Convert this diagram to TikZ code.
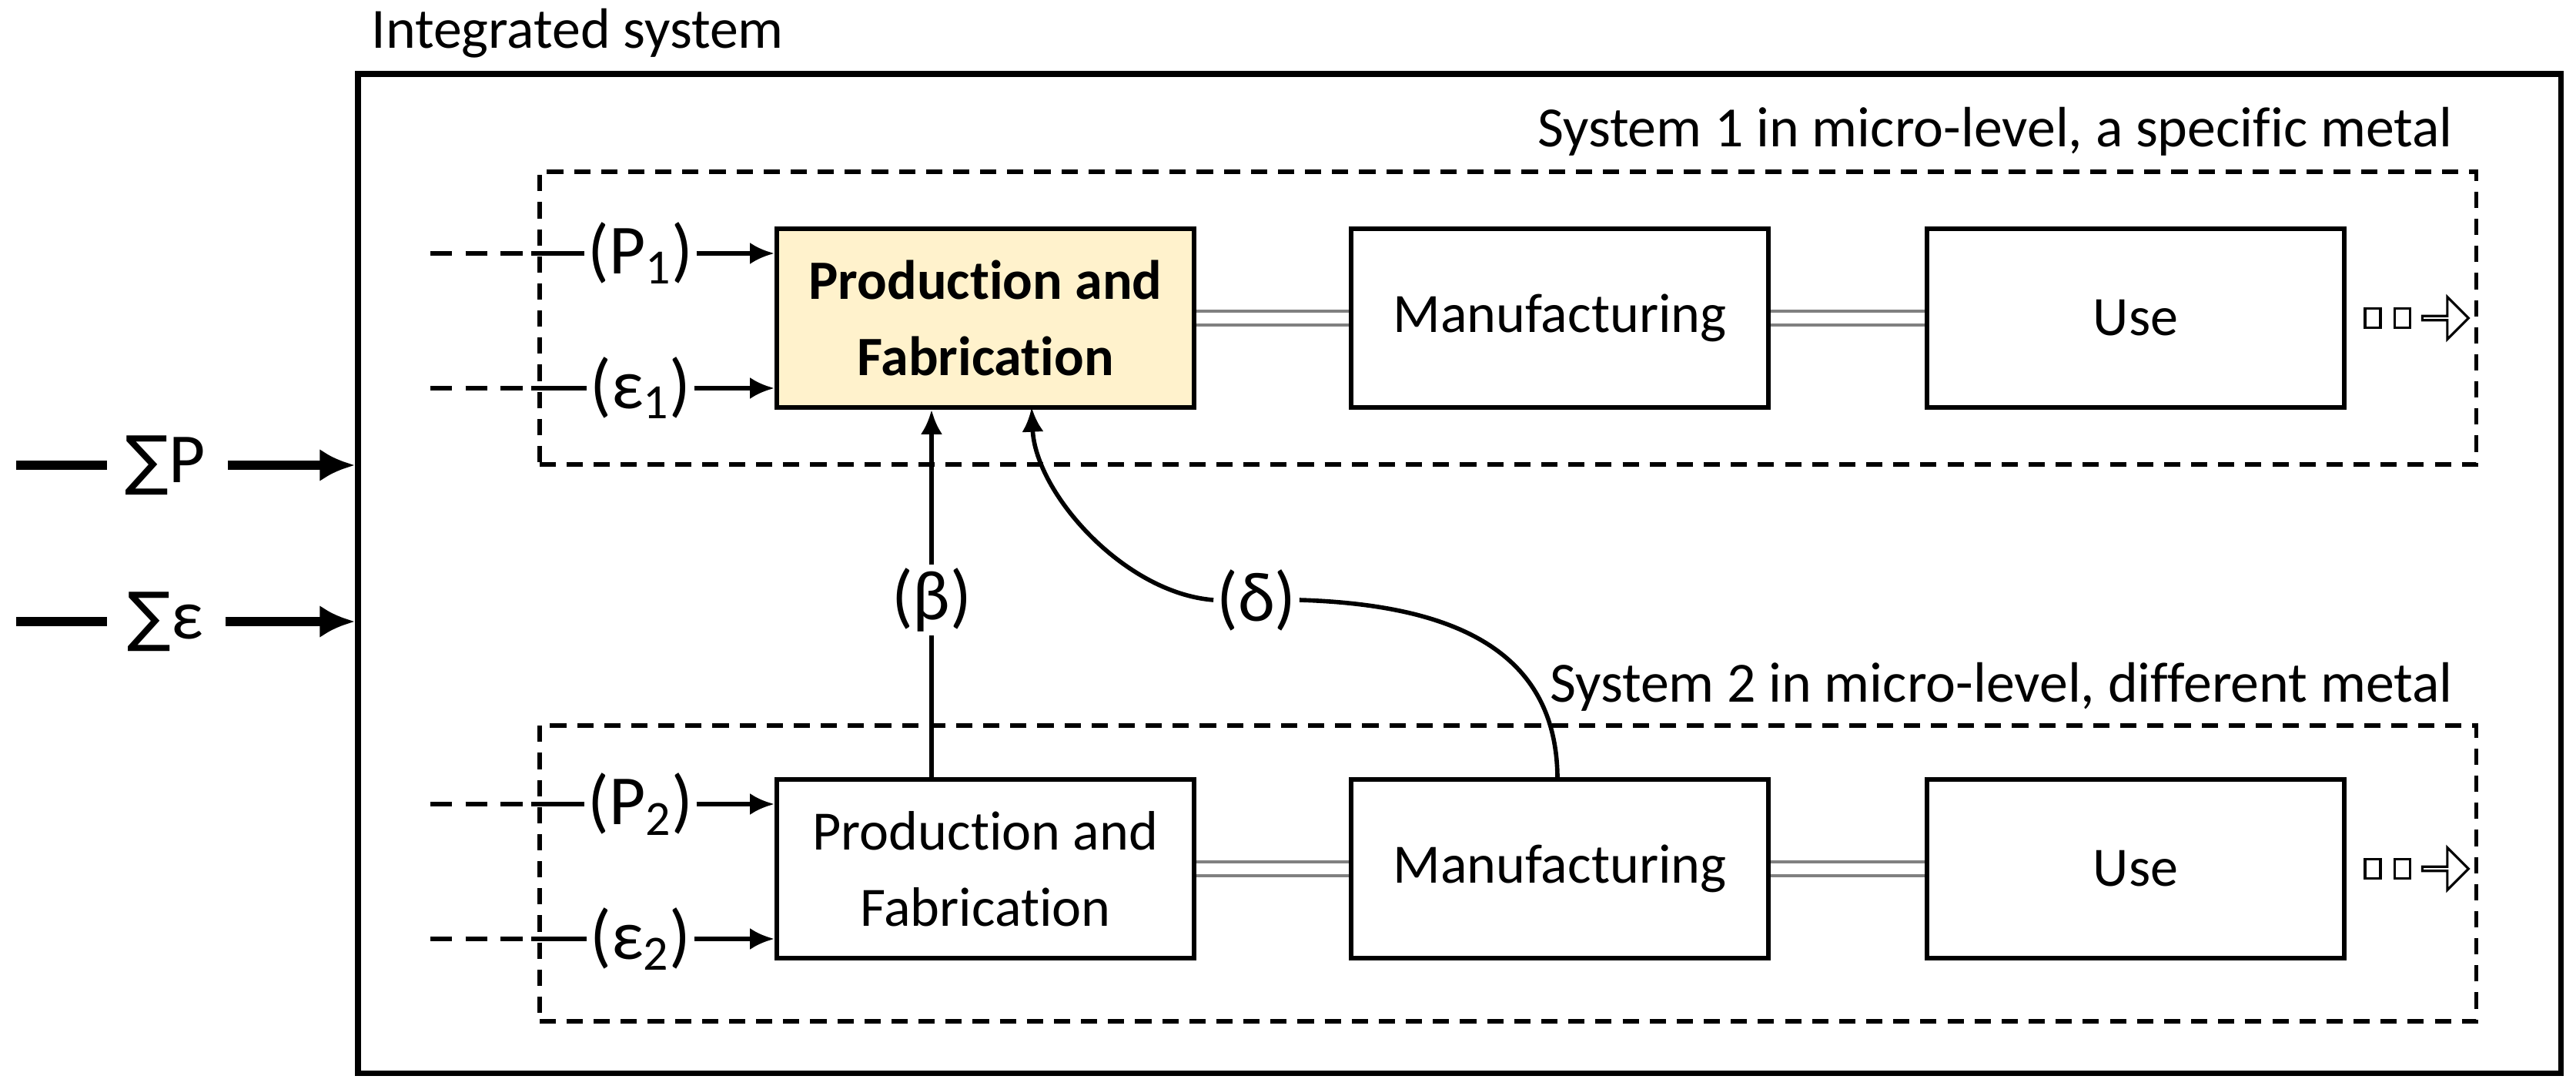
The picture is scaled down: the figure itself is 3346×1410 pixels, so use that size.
\documentclass[tikz,border=0pt]{standalone}
\usepackage{fontspec}
\setmainfont{Carlito}[Ligatures=NoCommon]
\newfontfamily\symf{DejaVu Sans}
\usetikzlibrary{arrows.meta,shapes.arrows,positioning}
\begin{document}
\begin{tikzpicture}[x=0.01cm,y=-0.01cm,
  box/.style={draw,line width=1.8pt,minimum width=5.42cm,minimum height=2.32cm,align=center,font=\fontsize{20.5}{28}\selectfont,inner sep=0},
  sysbox/.style={draw,line width=1.6pt,dash pattern=on 6pt off 4pt},
  lab/.style={font=\fontsize{26}{28}\selectfont,inner sep=1pt,fill=white},
  slab/.style={font=\fontsize{21}{24}\selectfont},
  inarr/.style={line width=1.6pt,-{Latex[length=9pt,width=8pt]}},
  dbl/.style={draw=gray,double=white,double distance=4pt,line width=1pt},
  thick arr/.style={line width=3.4pt,-{Latex[length=13pt,width=12pt]}}]
\useasboundingbox (0,0) rectangle (3346,1410);
\node[draw,line width=2.2pt,minimum width=28.6cm,minimum height=12.97cm,anchor=north west] (outer) at (461,92) {};
\node[slab,anchor=west] (it) at (470,43) {Integrated system};
\node[sysbox,minimum width=25.14cm,minimum height=3.8cm,anchor=north west] (s1) at (698,220) {};
\node[sysbox,minimum width=25.14cm,minimum height=3.84cm,anchor=north west] (s2) at (698,939) {};
\node[slab,anchor=east] (s1l) at (3198,171) {System 1 in micro-level, a specific metal};
\node[slab,anchor=east] (s2l) at (3198,892) {System 2 in micro-level, different metal};
\node[box,fill={rgb,255:red,255;green,242;blue,204},font=\fontsize{20.5}{28}\selectfont\bfseries] (pf1) at (1280,413) {Production and\\Fabrication};
\node[box] (m1) at (2026,413) {Manufacturing};
\node[box] (u1) at (2774,413) {Use};
\node[box] (pf2) at (1280,1128) {Production and\\Fabrication};
\node[box] (m2) at (2026,1128) {Manufacturing};
\node[box] (u2) at (2774,1128) {Use};
\draw[dbl] (pf1) -- (m1); \draw[dbl] (m1) -- (u1);
\draw[dbl] (pf2) -- (m2); \draw[dbl] (m2) -- (u2);
\foreach \n/\t/\y/\b in {p1/{(P\textsubscript{1})}/329/pf1, e1/{(ε\textsubscript{1})}/504/pf1, p2/{(P\textsubscript{2})}/1044/pf2, e2/{(ε\textsubscript{2})}/1219/pf2}{
  \coordinate (\n s) at (559,\y);
  \coordinate (\n m) at (690,\y);
  \node[lab,fill=none] (\n) at (832,\y) {\t};
  \draw[line width=1.8pt,dash pattern=on 8pt off 5pt] (\n s) -- (\n m);
  \draw[line width=1.8pt] (\n m) -- (\n.west);
  \draw[inarr] (\n.east) -- (\b.west |- \n);
}
\foreach \u in {u1,u2}{
  \node[draw,line width=0.9pt,minimum width=0.2cm,minimum height=0.25cm,inner sep=0,right=0.22cm of \u.east] (\u a) {};
  \node[draw,line width=0.9pt,minimum width=0.2cm,minimum height=0.25cm,inner sep=0,right=0.15cm of \u a.east] (\u b) {};
  \node[draw,line width=0.9pt,single arrow,single arrow head extend=0.14cm,minimum height=0.6cm,minimum width=0.55cm,inner sep=0,right=0.13cm of \u b.east] (\u c) {};
}
\coordinate (sp0) at (21,604); \coordinate (sp1) at (139,604);
\coordinate (se0) at (21,807); \coordinate (se1) at (139,807);
\node[lab,fill=none,inner xsep=8pt] (sp) at (215,604) {{\symf\fontsize{24}{26}\selectfont∑}P};
\node[lab,fill=none,inner xsep=8pt] (se) at (215,807) {{\symf\fontsize{24}{26}\selectfont∑}ε};
\draw[line width=3.4pt] (sp0) -- (sp1);
\draw[line width=3.4pt] (se0) -- (se1);
\draw[thick arr] (sp.east) -- (outer.west |- sp);
\draw[thick arr] (se.east) -- (outer.west |- se);
\node[lab] (beta) at (1210,779) {(β)};
\draw[line width=1.6pt] (pf2.north -| beta) -- (beta.south);
\draw[inarr] (beta.north) -- (pf1.south -| beta);
\node[lab] (delta) at (1632,779) {(δ)};
\coordinate (dstart) at (2023,1012);
\coordinate (dend) at (1340,529);
\draw[line width=1.6pt] (dstart) .. controls (2023,840) and (1880,785) .. (delta.east);
\draw[inarr] (delta.west) .. controls (1460,770) and (1345,640) .. (dend);
\end{tikzpicture}
\end{document}
